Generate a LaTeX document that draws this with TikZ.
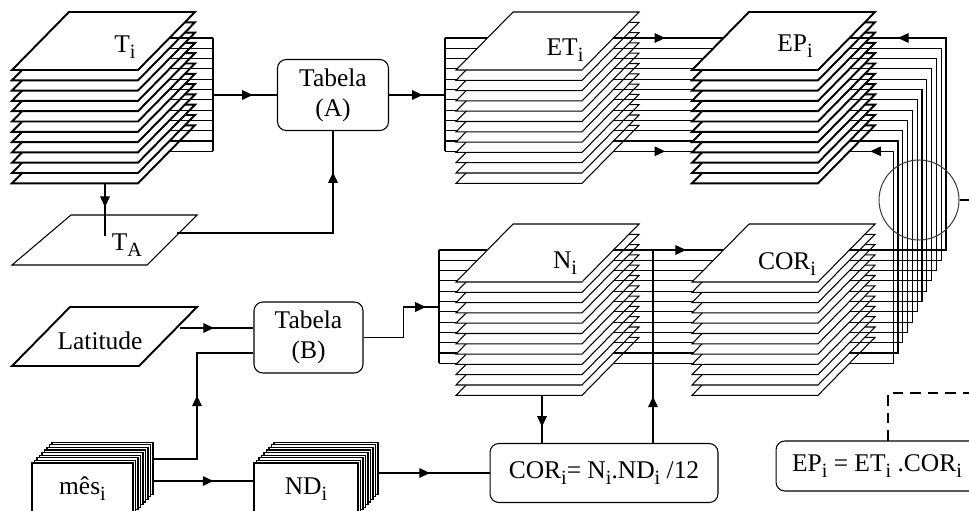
\documentclass[tikz,border=0pt]{standalone}
\usepackage{fontspec}
\setmainfont{Liberation Serif}
\usetikzlibrary{arrows.meta, calc, decorations.markings}
\newcommand{\baixo}[1]{\raisebox{-3.5pt}{\fontsize{11.5}{11.5}\selectfont #1}}
% a pile of 12 monthly sheets, top sheet's lower left corner at (#1,#2)
\newcommand{\pilha}[3]{%
  \foreach \k in {11,...,0}
    \filldraw[camada,#3] (#1,#2+10.3*\k) -- ++(126,0) -- ++(57,-58) -- ++(-126,0) -- cycle;
}

\begin{document}
\begin{tikzpicture}[x=0.02cm, y=-0.02cm, line width=0.6pt, font=\fontsize{14.5}{17}\selectfont,
  camada/.style={fill=white, draw=black},
  grossa/.style={line width=1.1pt},
  caixa/.style={draw, rounded corners=5pt, align=center, inner sep=0pt},
  pacote/.style={draw, fill=white},
  seta/.style={postaction={decorate}, decoration={markings,
    mark=at position #1 with {\arrow{Triangle[length=6pt,width=5.5pt]}}}}]
  \path[use as bounding box, clip] (0,0) rectangle (969,510);
  % where the sheet lines leave (e) and enter (d) each pile
  \foreach \n/\xo/\yo in {T/12/70, ET/456/70, EP/692/70, N/456/282, COR/692/282}
    \foreach \k in {0,...,11}{
      \coordinate (\n-e\k) at (\xo+31.4, \yo+10.3*\k-32);
      \coordinate (\n-d\k) at (\xo+157.4, \yo+10.3*\k-32);
    }

  % temperatures
  \pilha{12}{70}{grossa}
  \node (Tlab) at (125,47) {T\baixo{i}};
  \coordinate (barT) at (213,95);
  \foreach \k in {0,...,11} \draw (T-d\k) -- (T-d\k -| barT);
  \draw (T-d0 -| barT) -- (T-d11 -| barT);
  \node[caixa, minimum width=2.22cm, minimum height=1.42cm] (tabA) at (333,95) {Tabela\\(A)};
  \draw[seta=.62] (barT) -- (tabA);
  % annual mean
  \draw (12,265) -- (147,265) -- (197,215) -- (71,215) -- cycle;
  \node (TA) at (127,245) {T\baixo{A}};
  \coordinate (Tbase) at (105,183.3);
  \coordinate (TAin) at (105,236);
  \draw[seta=.45] (Tbase) -- (TAin);
  \coordinate (TAout) at (177,233);
  \draw[seta=.84] (TAout) -| (tabA.south);

  % potential evapotranspiration, not yet corrected
  \coordinate (barET) at (445,95);
  \foreach \k in {0,...,11} \draw (ET-e\k -| barET) -- (ET-e\k);
  \draw (ET-e0 -| barET) -- (ET-e11 -| barET);
  \draw[seta=.6] (tabA) -- (barET);
  \pilha{456}{70}{}
  \node (ETlab) at (565,50) {ET\baixo{i}};
  \foreach \k in {1,...,10} \draw (ET-d\k) -- (EP-e\k);
  \draw[seta=.47] (ET-d0) -- (EP-e0);
  \draw[seta=.47] (ET-d11) -- (EP-e11);
  \pilha{692}{70}{grossa}
  \node (EPlab) at (795,46) {EP\baixo{i}};

  % latitude and day length
  \draw[grossa] (12,366) -- (139,366) -- (197,307) -- (70,307) -- cycle;
  \node (lat) at (100,341) {Latitude};
  \node[caixa, minimum width=2.18cm, minimum height=1.42cm] (tabB) at (308.5,337.5) {Tabela\\(B)};
  \coordinate (latout) at (180,328);
  \draw[seta=.46] (latout) -- (latout -| tabB.west);
  \coordinate (barN) at (439,307);
  \foreach \k in {0,...,11} \draw (N-e\k -| barN) -- (N-e\k);
  \draw (N-e0 -| barN) -- (N-e11 -| barN);
  \draw[seta=.875] (tabB.east) -- ++(40,0) |- (barN);
  \pilha{456}{282}{}
  \node (Nlab) at (565,263) {N\baixo{i}};
  \foreach \k in {1,...,11} \draw (N-d\k) -- (COR-e\k);
  \draw[seta=.66] (N-d0) -- (COR-e0);
  \pilha{692}{282}{}
  \node (CORlab) at (787,264) {COR\baixo{i}};

  % corrections fed back to EP
  \foreach \k in {1,...,10} \draw (COR-d\k) -- ++(96.6-4.8*\k,0) |- (EP-d\k);
  \draw[seta=.88] (COR-d0) -- ++(96.6,0) |- (EP-d0);
  \draw[seta=.93] (COR-d11) -- ++(43.8,0) |- (EP-d11);
  \node[circle, draw=black!75, minimum size=1.6cm, inner sep=0pt] (roda) at (919,200) {};
  \coordinate (rodafim) at (969,200);
  \draw (roda.east) -- (rodafim);

  % months and number of days
  \foreach \j in {8,...,1}
    \filldraw[camada] (32+2.5*\j,463-2.6*\j) rectangle ++(101,52);
  \node[pacote, minimum width=2.02cm, minimum height=1.04cm] (mes) at (82.5,489) {mês\baixo{i}};
  \foreach \j in {8,...,1}
    \filldraw[camada] (254+2.5*\j,463-2.6*\j) rectangle ++(104,52);
  \node[pacote, minimum width=2.08cm, minimum height=1.04cm] (nd) at (306,489) {ND\baixo{i}};
  \coordinate (mesA) at (153,459);
  \coordinate (tabBin) at ($(tabB.west)+(0,15.5)$);
  \draw[seta=.52] (mesA) -- ++(44,0) |- (tabBin);
  \coordinate (mesB) at (153,481);
  \draw[seta=.6] (mesB) -- (mesB -| nd.west);

  % formulas
  \node[caixa, minimum width=4.56cm, minimum height=1.18cm] (cor) at (604,473) {COR\baixo{i}= N\baixo{i}.ND\baixo{i} /12};
  \node[caixa, minimum width=4.04cm, minimum height=1cm] (ep) at (877,466) {EP\baixo{i} = ET\baixo{i} .COR\baixo{i}};
  \coordinate (ndout) at (377,473);
  \draw[seta=.47] (ndout) -- (cor.west);
  \coordinate (Nbase) at (542,395.3);
  \draw[seta=.66] (Nbase) -- (Nbase |- cor.north);
  \coordinate (Nv) at (653,249.8);
  \draw[seta=.24] (Nv |- cor.north) -- (Nv);
  \coordinate (eptopo) at (888,441);
  \coordinate (tracofim) at (969,393);
  \draw[dash pattern=on 6pt off 4pt] (eptopo) |- (tracofim);
\end{tikzpicture}
\end{document}
